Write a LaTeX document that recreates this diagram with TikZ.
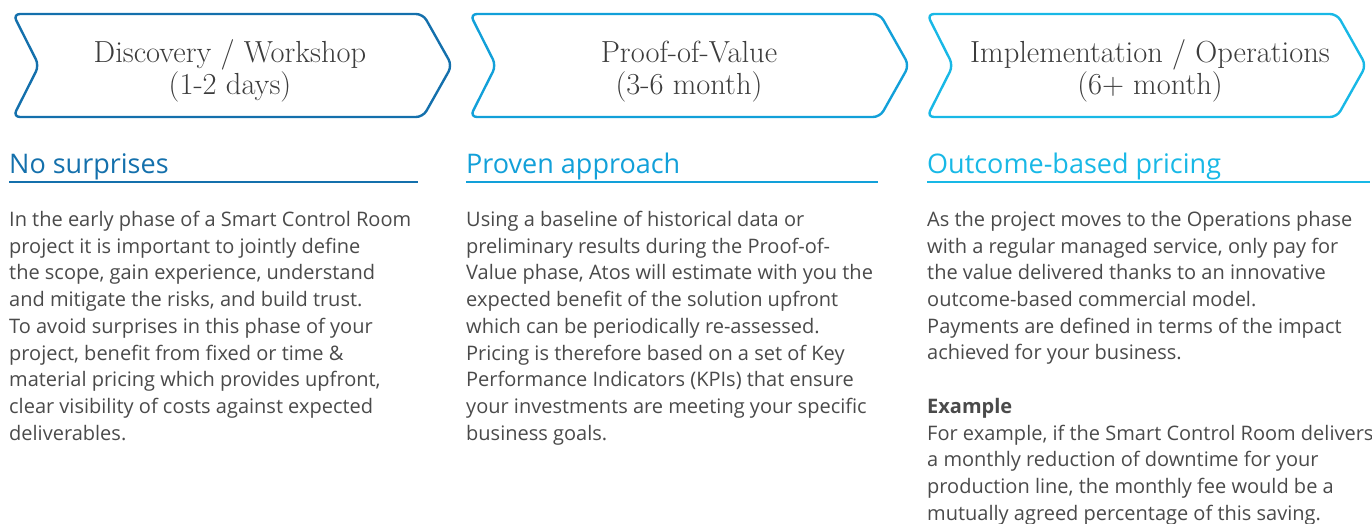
\documentclass[tikz,border=0pt]{standalone}
\usepackage{fontspec}
\setsansfont{Open Sans}
\usepackage{tikz}
\usepackage[rgb]{xcolor}

\definecolor{blu1}{HTML}{1470AC}
\definecolor{blu2}{HTML}{12A0D9}
\definecolor{blu3}{HTML}{18B8E6}
\definecolor{grigio}{HTML}{3C3C3C}
\definecolor{grigiochiaro}{HTML}{4A4A4A}

\begin{document}
\begin{tikzpicture}[x=1pt,y=-1pt,
	fase/.style={line width=2.4pt, rounded corners=7pt},
	fasetesto/.style={font=\fontsize{30.5}{27.5}\selectfont, text=grigio, align=center, inner sep=0pt},
	titolo/.style={font=\sffamily\fontsize{27}{30}\selectfont, anchor=base west, inner sep=0pt},
	sottolinea/.style={line width=2pt},
	corpo/.style={font=\sffamily\fontsize{20}{26.7}\selectfont, text=grigiochiaro, align=left, anchor=north west, inner sep=0pt}]
	\useasboundingbox (0,0) rectangle (1372,524);
	% frecce delle fasi
	\draw[fase, blu1] (13,14) -- ++(410,0) -- ++(29,51.5) -- ++(-29,51.5) -- ++(-410,0) -- ++(26,-51.5) -- cycle;
	\draw[fase, blu2] (470,14) -- ++(410,0) -- ++(29,51.5) -- ++(-29,51.5) -- ++(-410,0) -- ++(26,-51.5) -- cycle;
	\draw[fase, blu3] (927,14) -- ++(410,0) -- ++(29,51.5) -- ++(-29,51.5) -- ++(-410,0) -- ++(26,-51.5) -- cycle;
	\node[fasetesto] (fase1) at (230,71.5) {\strut Discovery / Workshop\\(1-2 days)\strut};
	\node[fasetesto] (fase2) at (689,71.5) {\strut Proof-of-Value\\(3-6 month)\strut};
	\node[fasetesto] (fase3) at (1150,71.5) {\strut Implementation / Operations\\(6+ month)\strut};
	% titoli
	\node[titolo, text=blu1] (tit1) at (9,173) {No surprises};
	\node[titolo, text=blu2] (tit2) at (466,173) {Proven approach};
	\node[titolo, text=blu3] (tit3) at (927,173) {Outcome-based pricing};
	\draw[sottolinea, blu1] (9,182) -- (418,182);
	\draw[sottolinea, blu2] (466,182) -- (878,182);
	\draw[sottolinea, blu3] (927,182) -- (1370,182);
	% testo
	\node[corpo] (testo1) at (9,211) {In the early phase of a Smart Control Room\\
		project it is important to jointly define\\
		the scope, gain experience, understand\\
		and mitigate the risks, and build trust.\\
		To avoid surprises in this phase of your\\
		project, benefit from fixed or time \&\\
		material pricing which provides upfront,\\
		clear visibility of costs against expected\\
		deliverables.};
	\node[corpo] (testo2) at (466,211) {Using a baseline of historical data or\\
		preliminary results during the Proof-of-\\
		Value phase, Atos will estimate with you the\\
		expected benefit of the solution upfront\\
		which can be periodically re-assessed.\\
		Pricing is therefore based on a set of Key\\
		Performance Indicators (KPIs) that ensure\\
		your investments are meeting your specific\\
		business goals.};
	\node[corpo] (testo3) at (927,211) {As the project moves to the Operations phase\\
		with a regular managed service, only pay for\\
		the value delivered thanks to an innovative\\
		outcome-based commercial model.\\
		Payments are defined in terms of the impact\\
		achieved for your business.\\[26.7pt]
		\textbf{Example}\\
		For example, if the Smart Control Room delivers\\
		a monthly reduction of downtime for your\\
		production line, the monthly fee would be a\\
		mutually agreed percentage of this saving.};
\end{tikzpicture}
\end{document}
